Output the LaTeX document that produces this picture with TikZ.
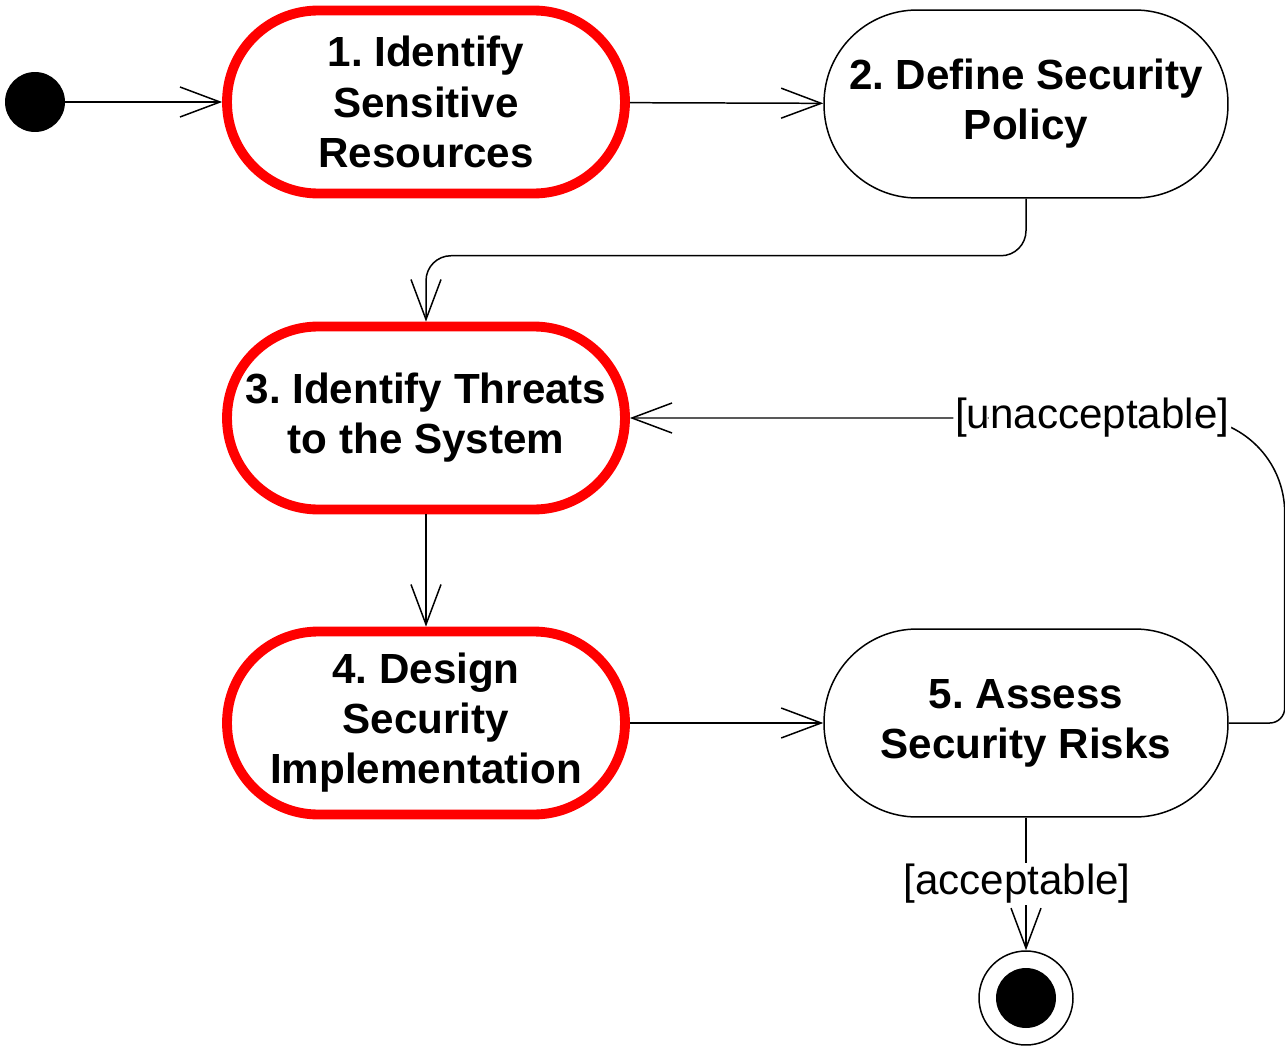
\documentclass[tikz,border=0pt]{standalone}
\usepackage{fontspec}
\setmainfont{Liberation Sans}
\usepackage{tikz}
\usetikzlibrary{arrows.meta}
\frenchspacing

\begin{document}
\begin{tikzpicture}[x=0.02cm,y=-0.02cm,
    >={Straight Barb[length=0.8cm,width=0.6cm]},
    flow/.style={->,line width=0.85pt},
    activity/.style={draw,line width=0.85pt,rounded corners=1.86cm,minimum width=8.08cm,minimum height=3.76cm,inner sep=0pt,align=center,font=\fontsize{24}{28.5}\selectfont\bfseries},
    keyact/.style={activity,draw=red,line width=5.6pt,rounded corners=1.82cm,minimum width=7.96cm,minimum height=3.66cm},
    guard/.style={fill=white,inner sep=1pt,font=\fontsize{24}{28.5}\selectfont},
    initial/.style={circle,fill=black,minimum size=1.2cm,inner sep=0pt},
    final/.style={circle,draw,line width=0.85pt,minimum size=1.88cm,inner sep=0pt,
      path picture={\fill (path picture bounding box.center) circle (0.6cm);}}]
    \useasboundingbox (0,0) rectangle (1285,1051);

    \node[initial] (start) at (35,102) {};
    \node[keyact] (n1) at (426,102) {1. Identify\\Sensitive\\Resources};
    \node[activity] (n2) at (1026,104) {2. Define Security\\Policy};
    \node[keyact] (n3) at (426,418) {3. Identify Threats\\to the System};
    \node[keyact] (n4) at (426,723) {4. Design\\Security\\Implementation};
    \node[activity] (n5) at (1026,723) {5. Assess\\Security Risks};
    \node[final] (end) at (1026,998) {};

    \draw[flow] (start) -- (n1);
    \draw[flow] (n1) -- (n2);
    \draw[flow,rounded corners=0.5cm] (n2.south) -- ++(0,57) -| (n3.north);
    \draw[flow] (n3) -- (n4);
    \draw[flow] (n4) -- (n5);
    \draw[flow] (n5.east) [rounded corners=0.3cm] -- ++(56,0)
      [rounded corners=1.9cm] -- ++(0,-305) -- (n3.east)
      node[guard,pos=0.294] (unacc) {[unacceptable]};
    \draw[flow] (n5) -- (end) node[guard,midway,xshift=-0.18cm] (acc) {[acceptable]};
  \end{tikzpicture}
\end{document}
